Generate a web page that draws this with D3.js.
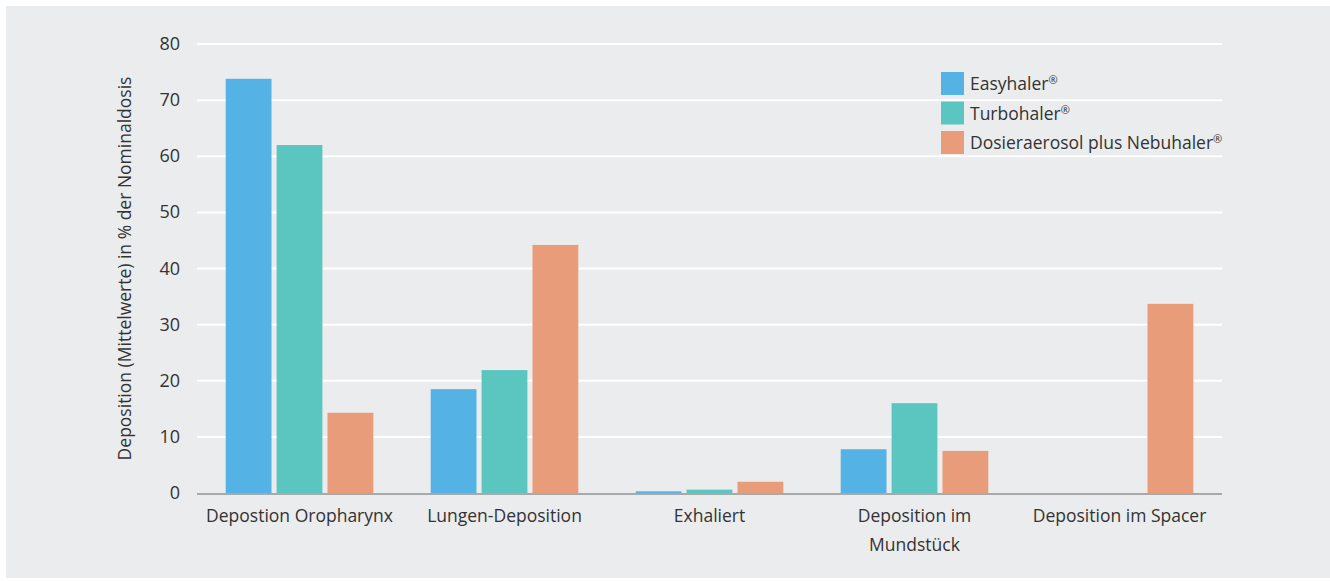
<!DOCTYPE html>
<html>
<head>
<meta charset="utf-8">
<script src="https://cdn.jsdelivr.net/npm/d3@7"></script>
<style>
  body { margin: 0; background: #fff; }
  svg { display: block; font-family: "Open Sans", "DejaVu Sans", sans-serif; }
</style>
</head>
<body>
<div id="chart"></div>
<script>
// Data
const categories = [["Depostion Oropharynx"], ["Lungen-Deposition"], ["Exhaliert"], ["Deposition im", "Mundstück"], ["Deposition im Spacer"]];
const seriesNames = ["Easyhaler", "Turbohaler", "Dosieraerosol plus Nebuhaler"];
const easyhaler = [73.8, 18.5, 0.3, 7.8, 0];
const turbohaler = [62.0, 21.9, 0.6, 16.0, 0];
const nebuhaler = [14.3, 44.2, 2.0, 7.5, 33.7];
const yTicks = [0, 10, 20, 30, 40, 50, 60, 70, 80];
const colors = ["#55b2e5", "#5bc5bf", "#e99c7a"];

const W = 1330, H = 581;
const margin = { left: 197, right: 108, top: 44, bottom: 88 };
const seriesVals = [easyhaler, turbohaler, nebuhaler];

const svg = d3.select('#chart').append('svg').attr('width', W).attr('height', H);
svg.append('rect').attr('x', 6).attr('y', 6).attr('width', W - 6).attr('height', H - 9).attr('fill', '#ebeced');

const x0 = d3.scaleBand().domain(d3.range(categories.length)).range([margin.left, W - margin.right]).paddingInner(0.28).paddingOuter(0.14);
const x1 = d3.scaleBand().domain(d3.range(seriesNames.length)).range([0, x0.bandwidth()]).paddingInner(0.1);
const y = d3.scaleLinear().domain([0, 80]).range([H - margin.bottom, margin.top]);

// grid
svg.append('g').selectAll('line').data(yTicks.filter(d => d > 0)).enter().append('line')
  .attr('x1', margin.left).attr('x2', W - margin.right)
  .attr('y1', d => y(d)).attr('y2', d => y(d))
  .attr('stroke', '#fff').attr('stroke-width', 2);

// tick labels
svg.append('g').selectAll('text').data(yTicks).enter().append('text')
  .attr('x', 180).attr('y', d => y(d) + 6)
  .attr('text-anchor', 'end').attr('fill', '#333').style('font-size', '18px').text(d => d);

// bars
const groups = svg.append('g').selectAll('g').data(categories).enter().append('g')
  .attr('transform', (d, i) => `translate(${x0(i)},0)`);
groups.selectAll('rect').data((d, i) => seriesVals.map((s, k) => ({ k, v: s[i] }))).enter().append('rect')
  .attr('x', d => x1(d.k)).attr('width', x1.bandwidth())
  .attr('y', d => y(d.v)).attr('height', d => y(0) - y(d.v))
  .attr('fill', d => colors[d.k]);

// baseline
svg.append('line').attr('x1', margin.left).attr('x2', W - margin.right)
  .attr('y1', y(0) + 1).attr('y2', y(0) + 1).attr('stroke', '#a8a9ab').attr('stroke-width', 2);

// category labels
groups.append('text').attr('text-anchor', 'middle').attr('fill', '#333').style('font-size', '17.5px')
  .selectAll('tspan').data(d => d).enter().append('tspan')
  .attr('x', x0.bandwidth() / 2).attr('y', (d, j) => y(0) + 29 + j * 29).text(d => d);

// y title
svg.append('text').attr('transform', `translate(131,${(y(0) + y(80)) / 2}) rotate(-90)`)
  .attr('text-anchor', 'middle').attr('fill', '#333').style('font-size', '17.5px')
  .text('Deposition (Mittelwerte) in % der Nominaldosis');

// legend
const legend = svg.append('g').attr('transform', 'translate(941,72)');
const li = legend.selectAll('g').data(seriesNames).enter().append('g').attr('transform', (d, i) => `translate(0,${i * 29.5})`);
li.append('rect').attr('width', 23).attr('height', 23).attr('fill', (d, i) => colors[i]);
const lt = li.append('text').attr('x', 29).attr('y', 18).attr('fill', '#333').style('font-size', '17.5px');
lt.append('tspan').text(d => d);
lt.append('tspan').attr('dy', -6).style('font-size', '11px').text('®');
</script>
</body>
</html>
